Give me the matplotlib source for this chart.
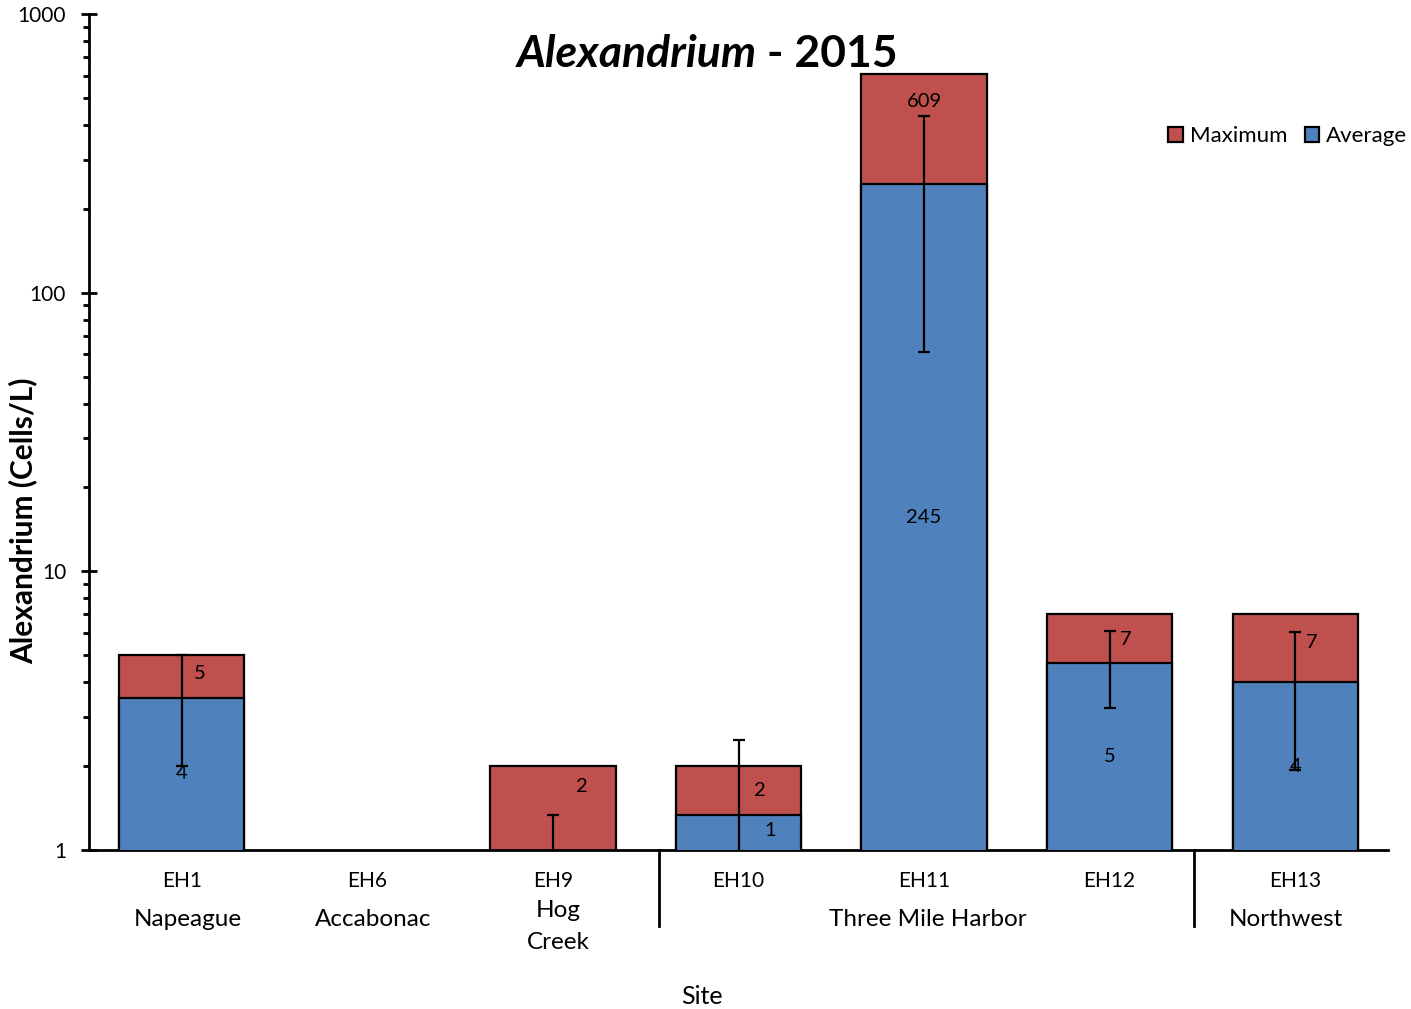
import matplotlib
matplotlib.use("Agg")
import matplotlib.pyplot as plt
import numpy as np

# ---- data ----
sites = ["EH1", "EH6", "EH9", "EH10", "EH11", "EH12", "EH13"]
maximum = [5, 0, 2, 2, 609, 7, 7]
average = [3.5, 0, 0.67, 1.33, 245, 4.67, 4.0]
avg_sd = [1.5, 0, 0.665, 1.15, 184, 1.43, 2.06]
max_labels = ["5", "", "2", "2", "609", "7", "7"]
avg_labels = ["4", "", "", "1", "245", "5", "4"]
groups = ["Napeague", "Accabonac", "Hog\nCreek", "Three Mile Harbor", "Northwest"]
group_pos = [0.03, 1.03, 2.03, 4.02, 5.95]
group_breaks = [2.57, 5.455]

RED = "#C0504D"
BLUE = "#4F81BD"
FONT = ["Lato", "DejaVu Sans"]
plt.rcParams["font.family"] = FONT

W, H = 1411, 1009
fig = plt.figure(figsize=(W / 100, H / 100), dpi=100)
ax = fig.add_axes([89 / W, 1 - 850 / H, (1388 - 89) / W, (850 - 14) / H])

x = np.arange(len(sites))
bw = 0.675
base = 1e-3
mx = np.array(maximum, float)
av = np.array(average, float)
ax.bar(x, np.where(mx > 0, mx - base, 0), bottom=base, width=bw, color=RED,
       edgecolor="black", linewidth=1.6, zorder=2, label="Maximum")
ax.bar(x, np.where(av > 0, av - base, 0), bottom=base, width=bw, color=BLUE,
       edgecolor="black", linewidth=1.6, zorder=3, label="Average")
has = av > 0
ax.errorbar(x[has], av[has], yerr=np.array(avg_sd)[has], fmt="none",
            ecolor="black", elinewidth=1.6, capsize=4.5, capthick=1.6, zorder=4)

ax.set_yscale("log")
ax.set_ylim(1, 1000)
ax.set_xlim(-0.5, 6.5)

# value labels (offsets in pixels from the log-centre of each segment)
max_off = [(18, 3), (0, 0), (29, 22), (21, 0), (0, 28), (16, -1), (16, 6)]
avg_off = [(0, 1), (0, 0), (0, 0), (32, 2), (0, 0), (0, 0), (0, 0)]
for i in range(len(sites)):
    if max_labels[i]:
        lo = max(av[i], 1)
        yc = np.sqrt(lo * mx[i])
        ax.annotate(max_labels[i], (x[i], yc), xytext=max_off[i],
                    textcoords="offset pixels", ha="center", va="center",
                    fontsize=14.5, zorder=5)
    if avg_labels[i]:
        yc = np.sqrt(av[i])
        ax.annotate(avg_labels[i], (x[i], yc), xytext=avg_off[i],
                    textcoords="offset pixels", ha="center", va="center",
                    fontsize=14.5, zorder=5)

# axes styling
for s in ("top", "right"):
    ax.spines[s].set_visible(False)
for s in ("left", "bottom"):
    ax.spines[s].set_linewidth(2)
ax.tick_params(axis="y", which="major", direction="inout", length=11, width=2,
               labelsize=15, pad=11)
ax.tick_params(axis="y", which="minor", direction="out", length=4, width=2)
ax.set_yticks([1, 10, 100, 1000])
ax.set_yticklabels(["1", "10", "100", "1000"])
ax.set_xticks(x)
ax.set_xticklabels(sites, fontsize=15)
ax.tick_params(axis="x", length=0, pad=15)

# group names and separators below the axis
tr = ax.get_xaxis_transform()
for gx, name in zip(group_pos, groups):
    ypix = 919 if "\n" not in name else 926.5
    ax.text(gx, -(ypix - 850) / 836, name, transform=tr, ha="center",
            va="center", fontsize=17.5, linespacing=1.6, clip_on=False)
for bx in group_breaks:
    ax.plot([bx, bx], [0, -(926 - 850) / 836], transform=tr, color="black",
            lw=2, clip_on=False)

fig.text(702 / W, 1 - 997 / H, "Site", ha="center", va="center", fontsize=18)
fig.text(23 / W, 1 - 521 / H, "Alexandrium (Cells/L)", rotation=90,
         ha="center", va="center", fontsize=21.5, fontweight="bold")

# title: italic genus name followed by the year
fig.text(757 / W, 1 - 54 / H, "Alexandrium", ha="right", va="center",
         fontsize=32, fontweight="bold", style="italic")
fig.text(767 / W, 1 - 54 / H, "- 2015", ha="left", va="center",
         fontsize=32, fontweight="bold")

leg = ax.legend(loc="upper right", bbox_to_anchor=(1416 / W, 1 - 117 / H),
                bbox_transform=fig.transFigure, ncol=2, frameon=False,
                fontsize=16, handlelength=0.65, handleheight=0.65,
                handletextpad=0.3, columnspacing=0.8, borderaxespad=0)

fig.savefig("out.png", dpi=100)
